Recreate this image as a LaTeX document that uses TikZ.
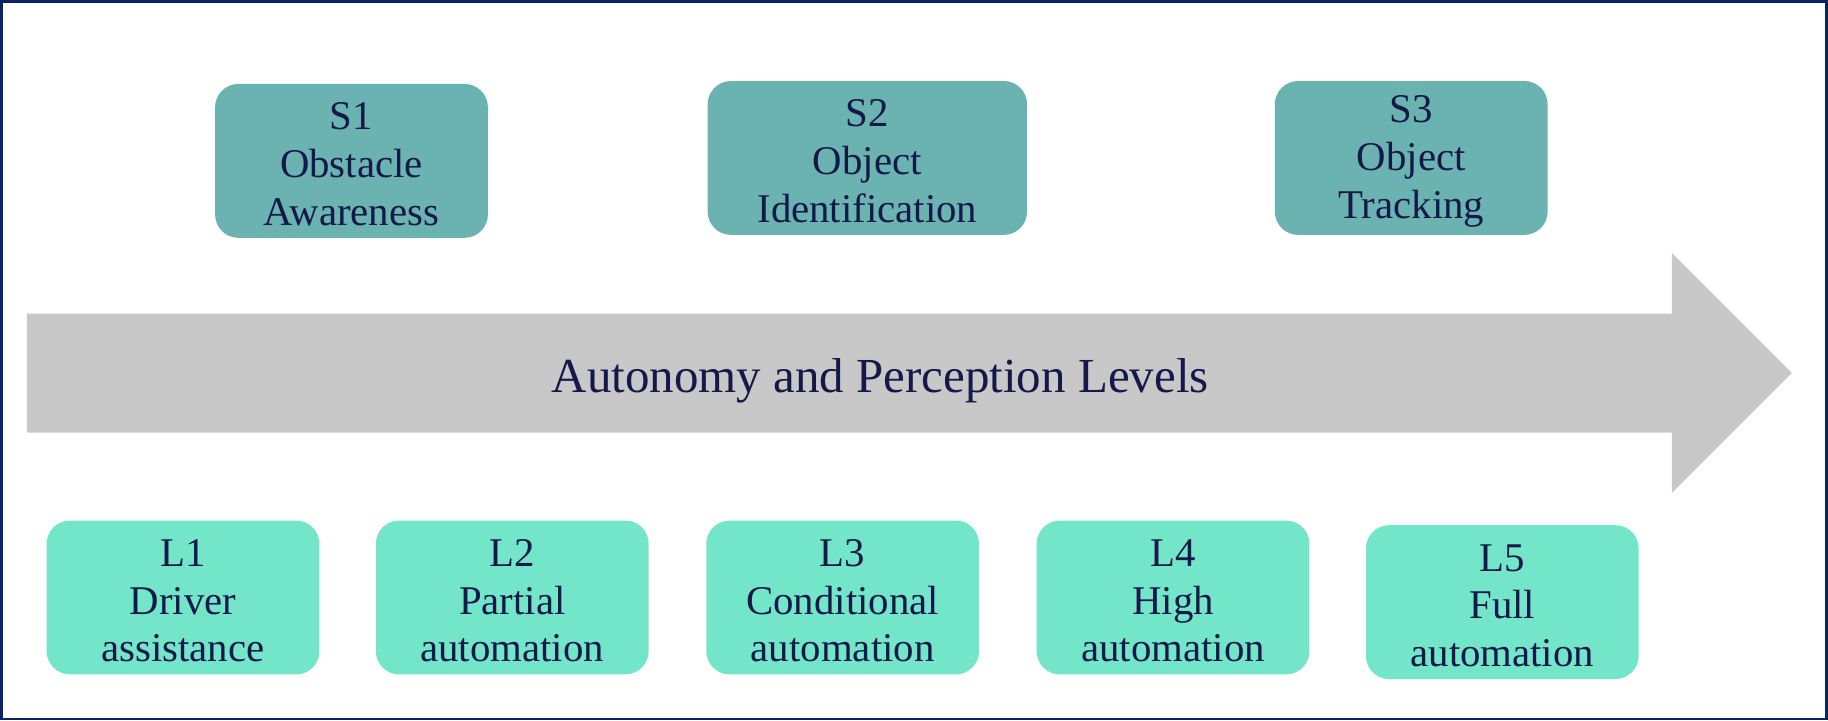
\documentclass[tikz,border=0pt]{standalone}
\usepackage{fontspec}
\setmainfont{Liberation Serif}
\usepackage{tikz}
\usetikzlibrary{positioning}
\usepackage{xcolor}
\definecolor{navy}{HTML}{14194A}
\definecolor{frame}{HTML}{0A2463}
\definecolor{sbox}{HTML}{6AB3B0}
\definecolor{lbox}{HTML}{73E6C9}
\definecolor{band}{HTML}{C8C8C8}

\begin{document}
\begin{tikzpicture}[x=1pt, y=-1pt, every node/.style={font=\fontsize{35}{41}\selectfont, text=navy}]
\tikzstyle{box}=[rounded corners=20pt, align=center, inner sep=0pt, minimum width=234pt, minimum height=132pt, text height=111pt]
\tikzstyle{sense}=[box, fill=sbox]
\tikzstyle{level}=[box, fill=lbox]
\useasboundingbox (0,0) rectangle (1568,618);
\draw[frame, line width=2.4pt] (1.2,1.2) rectangle (1566.8,616.8);
% big arrow
\fill[band] (23,269) -- (1434,269) -- (1434,217) -- (1537,320) -- (1434,423) -- (1434,371) -- (23,371) -- cycle;
\node[font=\fontsize{42}{48}\selectfont] (band) at (755,327) {Autonomy and Perception Levels};
% perception stages
\node[sense] (s1) at (301.5,138) {S1\\Obstacle\\Awareness};
\node[sense, minimum width=274pt] (s2) at (744,135.5) {S2\\Object\\Identification};
\node[sense] (s3) at (1210.5,135.5) {S3\\Object\\Tracking};
% autonomy levels
\node[level] (l1) at (157,512.5) {L1\\Driver\\assistance};
\node[level, right=48pt of l1] (l2) {L2\\Partial\\automation};
\node[level, right=49pt of l2] (l3) {L3\\Conditional\\automation};
\node[level, right=49pt of l3] (l4) {L4\\High\\automation};
\node[level, right=48pt of l4, yshift=-4pt] (l5) {L5\\Full\\automation};
\end{tikzpicture}
\end{document}
